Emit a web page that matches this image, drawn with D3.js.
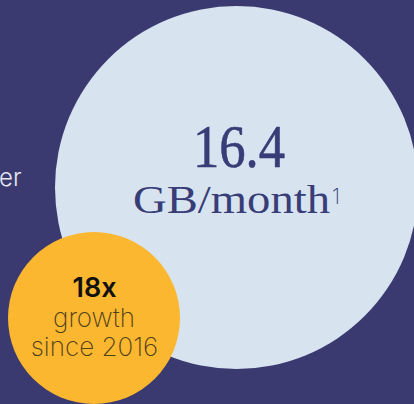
<!DOCTYPE html>
<html>
<head>
<meta charset="utf-8">
<script src="https://cdn.jsdelivr.net/npm/d3@7"></script>
<style>
html,body{margin:0;padding:0;background:#3a3a71;overflow:hidden;}
svg{display:block;}
</style>
</head>
<body>
<script>
// Data
const bubbleNames = ["usage", "growth"];
const bubbleValues = ["16.4", "18x"];
const bubbleUnits = ["GB/month", "growth"];
const bubbleNotes = ["1", "since 2016"];
const sideText = ["er"];

const W = 414, H = 404;
const svg = d3.select("body").append("svg").attr("width", W).attr("height", H);
svg.append("rect").attr("width", W).attr("height", H).attr("fill", "#3a3a71");

const layout = [
  {cx: 236.5, cy: 187.5, r: 181.5, fill: "#d7e4f0"},
  {cx: 94, cy: 318, r: 86, fill: "#fbb72f"}
];

svg.selectAll("circle.bubble")
  .data(bubbleNames.map((n, i) => ({name: n, ...layout[i]})))
  .join("circle")
  .attr("class", "bubble")
  .attr("cx", d => d.cx).attr("cy", d => d.cy).attr("r", d => d.r)
  .attr("fill", d => d.fill);

// side text (clipped word)
svg.append("text")
  .attr("x", -1).attr("y", 186)
  .attr("font-family", "Inter, 'Noto Sans', sans-serif")
  .attr("font-weight", 300)
  .attr("font-size", 24)
  .attr("fill", "#e6e7f1")
  .text(sideText[0]);

// Big bubble text
const serif = "'Liberation Serif', 'Times New Roman', serif";
svg.append("text")
  .attr("x", 193).attr("y", 167)
  .attr("font-family", serif)
  .attr("font-size", 61)
  .attr("fill", "#383c77")
  .attr("stroke", "#383c77").attr("stroke-width", 0.6)
  .attr("textLength", 92)
  .attr("lengthAdjust", "spacingAndGlyphs")
  .text(bubbleValues[0]);

svg.append("text")
  .attr("x", 133).attr("y", 213)
  .attr("font-family", serif)
  .attr("font-size", 39)
  .attr("fill", "#383c77")
  .attr("textLength", 197)
  .attr("lengthAdjust", "spacingAndGlyphs")
  .text(bubbleUnits[0]);

svg.append("text")
  .attr("x", 332).attr("y", 204)
  .attr("font-family", "Inter, sans-serif")
  .attr("font-weight", 200)
  .attr("font-size", 21)
  .attr("fill", "#383c77")
  .text(bubbleNotes[0]);

// Small bubble text
svg.append("text")
  .attr("x", 94.5).attr("y", 297)
  .attr("text-anchor", "middle")
  .attr("font-family", "Inter, sans-serif")
  .attr("font-weight", 600)
  .attr("font-size", 27)
  .attr("fill", "#111111")
  .text(bubbleValues[1]);

svg.append("text")
  .attr("x", 94).attr("y", 327)
  .attr("text-anchor", "middle")
  .attr("font-family", "Inter, sans-serif")
  .attr("font-weight", 200)
  .attr("font-size", 26)
  .attr("fill", "#4f401c")
  .text(bubbleUnits[1]);

svg.append("text")
  .attr("x", 94.5).attr("y", 356)
  .attr("text-anchor", "middle")
  .attr("font-family", "Inter, sans-serif")
  .attr("font-weight", 200)
  .attr("font-size", 26)
  .attr("fill", "#4f401c")
  .text(bubbleNotes[1]);
</script>
</body>
</html>
